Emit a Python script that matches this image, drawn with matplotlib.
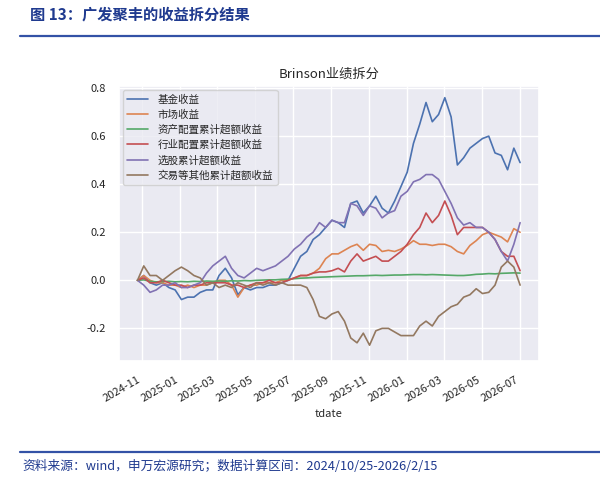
import matplotlib
matplotlib.use("Agg")
import matplotlib.pyplot as plt
import matplotlib.dates as mdates
from matplotlib.lines import Line2D
import pandas as pd
import seaborn as sns

sns.set_theme(style="darkgrid", palette="deep")
plt.rcParams["font.family"] = ["Noto Sans CJK SC", "DejaVu Sans"]
plt.rcParams["axes.unicode_minus"] = False

# data (about every 10 days)
dates = pd.date_range("2024-10-25", "2026-07-01", periods=62)

fund = [0.00, 0.02, -0.01, -0.02, -0.01, -0.03, -0.04, -0.08, -0.07, -0.07,
        -0.05, -0.04, -0.04, 0.02, 0.05, 0.01, -0.06, -0.03, -0.04, -0.03,
        -0.03, -0.02, -0.02, -0.01, 0.00, 0.05, 0.10, 0.12, 0.17, 0.19,
        0.22, 0.25, 0.24, 0.22, 0.32, 0.33, 0.28, 0.31, 0.35, 0.30,
        0.28, 0.33, 0.39, 0.45, 0.57, 0.65, 0.74, 0.66, 0.69, 0.76,
        0.68, 0.48, 0.51, 0.55, 0.57, 0.59, 0.60, 0.53, 0.52, 0.46,
        0.55, 0.49]
market = [0.00, 0.02, 0.00, -0.01, -0.01, -0.02, -0.02, -0.03, -0.02, -0.03,
          -0.02, -0.02, -0.01, 0.00, 0.00, -0.02, -0.07, -0.03, -0.02, -0.02,
          -0.01, -0.01, -0.01, 0.00, 0.00, 0.01, 0.02, 0.02, 0.03, 0.05,
          0.09, 0.11, 0.11, 0.125, 0.14, 0.15, 0.125, 0.15, 0.145, 0.12,
          0.125, 0.12, 0.13, 0.145, 0.165, 0.15, 0.15, 0.145, 0.15, 0.15,
          0.14, 0.12, 0.11, 0.145, 0.165, 0.19, 0.20, 0.19, 0.18, 0.16,
          0.215, 0.20]
alloc = [0.000, 0.002, -0.004, -0.006, -0.005, -0.004, -0.006, -0.005, -0.006, -0.004,
         -0.005, -0.003, -0.004, -0.003, -0.004, -0.002, -0.003, -0.001, -0.002, 0.000,
         0.001, 0.002, 0.002, 0.004, 0.005, 0.007, 0.009, 0.010, 0.012, 0.013,
         0.014, 0.015, 0.016, 0.017, 0.018, 0.019, 0.019, 0.020, 0.021, 0.020,
         0.021, 0.022, 0.022, 0.023, 0.024, 0.024, 0.023, 0.024, 0.023, 0.022,
         0.021, 0.020, 0.020, 0.022, 0.025, 0.026, 0.028, 0.027, 0.029, 0.030,
         0.031, 0.030]
industry = [0.00, 0.01, -0.01, -0.01, 0.00, -0.01, -0.02, -0.02, -0.03, -0.02,
            -0.02, -0.01, -0.01, -0.01, -0.01, -0.02, -0.02, -0.03, -0.02, -0.01,
            -0.01, 0.00, -0.01, -0.01, 0.00, 0.01, 0.02, 0.02, 0.03, 0.035,
            0.035, 0.04, 0.05, 0.035, 0.08, 0.11, 0.08, 0.09, 0.10, 0.08,
            0.08, 0.10, 0.12, 0.15, 0.19, 0.22, 0.28, 0.24, 0.27, 0.33,
            0.27, 0.19, 0.22, 0.22, 0.22, 0.22, 0.20, 0.17, 0.12, 0.10,
            0.10, 0.04]
stock = [0.00, -0.02, -0.05, -0.04, -0.02, -0.02, -0.01, -0.03, -0.03, -0.02,
         -0.01, 0.03, 0.06, 0.08, 0.10, 0.05, 0.02, 0.01, 0.03, 0.05,
         0.04, 0.05, 0.06, 0.08, 0.10, 0.13, 0.15, 0.18, 0.20, 0.24,
         0.22, 0.25, 0.24, 0.24, 0.32, 0.31, 0.27, 0.31, 0.30, 0.26,
         0.28, 0.29, 0.35, 0.37, 0.41, 0.42, 0.44, 0.44, 0.42, 0.37,
         0.32, 0.26, 0.23, 0.24, 0.22, 0.22, 0.20, 0.17, 0.12, 0.08,
         0.15, 0.24]
other = [0.00, 0.06, 0.02, 0.02, 0.00, 0.02, 0.04, 0.055, 0.04, 0.02,
         0.01, -0.02, -0.01, -0.03, -0.02, -0.03, -0.01, -0.02, -0.03, -0.01,
         -0.02, -0.01, -0.02, -0.01, -0.02, -0.02, -0.02, -0.03, -0.08, -0.15,
         -0.16, -0.14, -0.13, -0.17, -0.24, -0.26, -0.22, -0.27, -0.21, -0.20,
         -0.20, -0.215, -0.23, -0.23, -0.23, -0.19, -0.17, -0.19, -0.15, -0.13,
         -0.11, -0.10, -0.07, -0.06, -0.035, -0.055, -0.05, -0.02, 0.055, 0.08,
         0.055, -0.02]

labels = ["基金收益", "市场收益", "资产配置累计超额收益",
          "行业配置累计超额收益", "选股累计超额收益", "交易等其他累计超额收益"]

navy = "#1F3A8F"

fig = plt.figure(figsize=(6, 4.84), dpi=100)
fig.patch.set_facecolor("white")

# header / footer of the report page
fig.text(0.05, 0.971, "图 13：广发聚丰的收益拆分结果", fontsize=11,
         fontweight="bold", color=navy, va="center", ha="left")
fig.add_artist(Line2D([0.033, 1.0], [0.926, 0.926], transform=fig.transFigure,
                      color="#3352A6", lw=1.6))
fig.add_artist(Line2D([0.033, 1.0], [0.066, 0.066], transform=fig.transFigure,
                      color="#3352A6", lw=1.6))
fig.text(0.037, 0.037, "资料来源：wind，申万宏源研究；数据计算区间：2024/10/25-2026/2/15",
         fontsize=9.2, color=navy, va="center", ha="left")

ax = fig.add_axes([0.198, 0.254, 0.700, 0.568])
for series, lab in zip([fund, market, alloc, industry, stock, other], labels):
    ax.plot(dates, series, lw=1.2, label=lab)

ax.set_xlim(pd.Timestamp("2024-09-25"), pd.Timestamp("2026-07-31"))
ax.set_ylim(-0.336, 0.808)
ax.set_yticks([-0.2, 0.0, 0.2, 0.4, 0.6, 0.8])
ax.xaxis.set_major_locator(mdates.MonthLocator(bymonth=[1, 3, 5, 7, 9, 11]))
ax.xaxis.set_major_formatter(mdates.DateFormatter("%Y-%m"))
for t in ax.get_xticklabels():
    t.set_rotation(30)
    t.set_ha("right")
ax.tick_params(labelsize=8, colors="#262626")
ax.set_xlabel("tdate", fontsize=8, color="#262626")
ax.set_title("Brinson业绩拆分", fontsize=9.5, color="#262626")
ax.legend(loc="upper left", fontsize=7.6, labelspacing=0.45, handlelength=2.0,
          handletextpad=0.9, borderaxespad=0.4)

fig.savefig("out.png", dpi=100)
